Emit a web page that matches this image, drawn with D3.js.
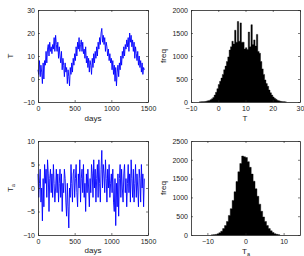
<!DOCTYPE html>
<html>
<head>
<meta charset="utf-8">
<script src="https://cdn.jsdelivr.net/npm/d3@7"></script>
<style>
  body { margin: 0; background: #fff; }
  svg text { font-family: "Liberation Sans", Arial, sans-serif; }
</style>
</head>
<body>
<script>
// daily temperature, sampled every 10 days
var dayStep = 10;
var tempT = [
  4, 2, 8, 1, 6, 3, -2, 7, 0, 8,
  6, 12, 7, 13, 15, 10, 16, 12, 14, 11,
  15, 13, 18, 12, 19, 15, 12, 16, 9, 14,
  10, 7, 12, 4, 9, 6, 1, 7, 3, 5,
  -2, 4, 1, -3, 5, 2, 7, 3, 9, 6,
  11, 8, 14, 10, 16, 13, 18, 12, 15, 17,
  12, 16, 11, 13, 9, 14, 7, 10, 5, 9,
  3, 8, 6, 2, 9, 5, 11, 7, 12, 9,
  14, 10, 16, 13, 18, 15, 20, 22, 16, 19,
  15, 18, 12, 16, 14, 10, 13, 8, 11, 7,
  9, 4, 8, 2, 6, -1, 5, -3, 3, 6,
  1, 7, 4, 10, 6, 12, 9, 14, 10, 15,
  13, 17, 14, 18, 12, 20, 16, 19, 14, 17,
  12, 16, 9, 14, 11, 8, 12, 6, 10, 5,
  8, 3, 7, 2, 5, 4
];
// anomaly series
var tempA = [
  3, -2, 1, 4, -3, 0, -7, 2, -4, 5,
  1, 4, -2, 6, 3, -5, 2, 4, -1, 3,
  -2, 5, 1, -3, 0, 4, -1, 3, -3, 1,
  4, -2, 3, -5, 1, -1, 4, 2, -3, -6,
  1, -4, -8.5, 0, -2, 5, 1, -3, 3, 4,
  -2, 2, 5, -1, -4, 3, 0, 6, -3, 2,
  4, -1, 5, -2, 1, -5, 3, -1, 4, 0,
  -4, 2, -1, 5, 3, -2, 6, 0, 4, -3,
  2, 5, -2, 6, 1, -3, 4, 8, 0, 5,
  3, -1, 6, 2, -3, 4, 0, 5, -2, 1,
  3, -1, 4, -3, -5, 2, -8, 1, -4, 3,
  -6, 2, 5, -2, 4, 0, -3, 3, 5, -1,
  2, -4, 1, 5, -1, 3, -3, 6, 2, -2,
  4, -3, 1, 5, -2, 3, 0, -4, 4, 2,
  -3, 5, 0, 3, -4, 2
];

// histogram of T: bins of 0.5 starting at -7
var histTStart = -7, histTWidth = 0.5;
var histT = [
  2, 3, 5, 8, 12, 18, 25, 35, 50, 70,
  100, 150, 210, 290, 380, 450, 520, 600, 700, 780,
  880, 980, 1130, 1200, 1320, 1260, 1560, 1300, 1750, 1320,
  1720, 1300, 1300, 1150, 1180, 1140, 1520, 1200, 1680, 1250,
  1350, 1220, 1470, 1100, 1060, 880, 720, 600, 480, 400,
  340, 260, 200, 150, 110, 80, 60, 40, 28, 18,
  12, 7, 4, 2
];
// histogram of T_a: bins of 0.5 starting at -9
var histAStart = -9, histAWidth = 0.5;
var histA = [
  3, 8, 15, 30, 60, 100, 170, 250, 360, 520,
  700, 920, 1150, 1420, 1680, 1900, 2100, 2080, 2060, 1950,
  1800, 1620, 1430, 1230, 1030, 820, 630, 480, 360, 250,
  170, 110, 65, 35, 18, 8
];

var daysTicks = [0, 500, 1000, 1500];
var tTicks = [-10, 0, 10, 20, 30];
var aTicks = [-10, -5, 0, 5, 10];
var histTxTicks = [-10, 0, 10, 20, 30];
var histTyTicks = [0, 500, 1000, 1500, 2000];
var histAxTicks = [-10, 0, 10];
var histAyTicks = [0, 500, 1000, 1500, 2000, 2500];

var svg = d3.select("body").append("svg")
  .attr("width", 304)
  .attr("height", 256);

function panel(px, py, w, h, xDom, yDom, xt, yt) {
  var g = svg.append("g").attr("transform", "translate(" + px + "," + py + ")");
  var x = d3.scaleLinear().domain(xDom).range([0, w]);
  var y = d3.scaleLinear().domain(yDom).range([h, 0]);
  return { g: g, x: x, y: y, w: w, h: h, xt: xt, yt: yt };
}

function frame(p) {
  var fmt = d3.format("d");
  var bottom = p.g.append("g").attr("transform", "translate(0," + p.h + ")")
    .call(d3.axisBottom(p.x).tickValues(p.xt).tickFormat(fmt).tickSizeInner(-2).tickSizeOuter(0).tickPadding(4));
  var left = p.g.append("g")
    .call(d3.axisLeft(p.y).tickValues(p.yt).tickFormat(fmt).tickSizeInner(-2).tickSizeOuter(0).tickPadding(3));
  var top = p.g.append("g")
    .call(d3.axisTop(p.x).tickValues(p.xt).tickFormat("").tickSizeInner(-2).tickSizeOuter(0));
  var right = p.g.append("g").attr("transform", "translate(" + p.w + ",0)")
    .call(d3.axisRight(p.y).tickValues(p.yt).tickFormat("").tickSizeInner(-2).tickSizeOuter(0));
  [bottom, left, top, right].forEach(function (a) {
    a.select(".domain").attr("stroke", "#222").attr("stroke-width", 0.8);
    a.selectAll(".tick line").attr("stroke", "#222").attr("stroke-width", 0.6);
    a.selectAll("text").attr("font-size", 7).attr("fill", "#222")
      .attr("font-family", "Liberation Sans, Arial, sans-serif");
  });
}

function label(x, y, txt, sub, rotate) {
  var t = svg.append("text")
    .attr("font-size", 8)
    .attr("fill", "#222")
    .attr("text-anchor", "middle")
    .attr("transform", "translate(" + x + "," + y + ")" + (rotate ? " rotate(-90)" : ""));
  t.append("tspan").text(txt);
  if (sub) t.append("tspan").attr("font-size", 5.5).attr("dy", 2).text(sub);
}

function series(p, vals) {
  var line = d3.line()
    .x(function (d, i) { return p.x(i * dayStep); })
    .y(function (d) { return p.y(d); });
  p.g.append("path")
    .datum(vals)
    .attr("fill", "none")
    .attr("stroke", "#0000ff")
    .attr("stroke-width", 0.9)
    .attr("d", line);
}

// histogram as one stepped area, so the bars have no seams between them
function hist(p, counts, start, width) {
  var pts = counts.map(function (c, i) { return [start + i * width, c]; });
  pts.push([start + counts.length * width, 0]);
  var area = d3.area()
    .curve(d3.curveStepAfter)
    .x(function (d) { return p.x(d[0]); })
    .y0(p.y(0))
    .y1(function (d) { return p.y(d[1]); });
  p.g.append("path")
    .datum(pts)
    .attr("fill", "#000")
    .attr("stroke", "#000")
    .attr("stroke-width", 0.4)
    .attr("d", area);
}

// top left: T vs days
var p1 = panel(38, 10, 110, 92, [0, 1500], [-10, 30], daysTicks, tTicks);
series(p1, tempT);
frame(p1);
label(93, 121, "days");
label(13, 56, "T", null, true);

// top right: histogram of T
var p2 = panel(191, 10, 109, 92, [-10, 30], [0, 2000], histTxTicks, histTyTicks);
hist(p2, histT, histTStart, histTWidth);
frame(p2);
label(245, 121, "T");
label(166, 56, "freq", null, true);

// bottom left: T_a vs days
var p3 = panel(38, 141, 110, 94, [0, 1500], [-10, 10], daysTicks, aTicks);
series(p3, tempA);
frame(p3);
label(93, 253, "days");
label(13, 188, "T", "a", true);

// bottom right: histogram of T_a
var p4 = panel(191, 141, 109, 94, [-14.3, 14.3], [0, 2500], histAxTicks, histAyTicks);
hist(p4, histA, histAStart, histAWidth);
frame(p4);
label(246, 254, "T", "a");
label(166, 188, "freq", null, true);
</script>
</body>
</html>
